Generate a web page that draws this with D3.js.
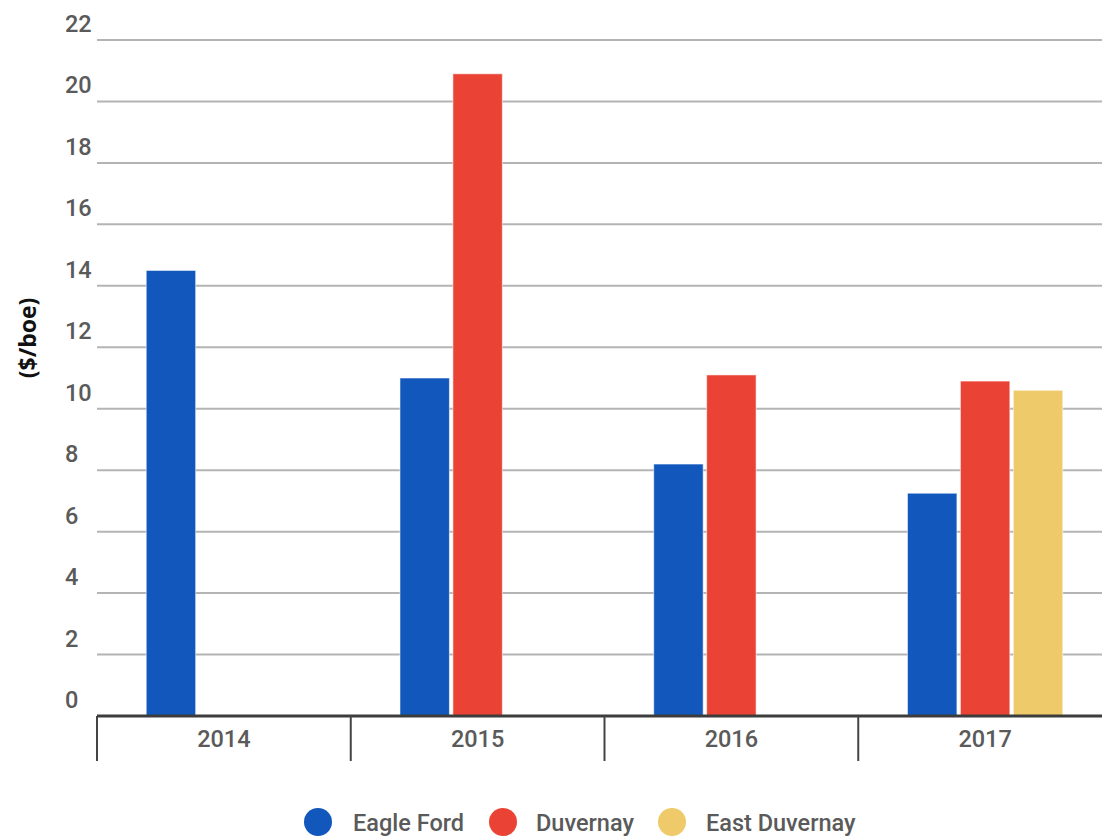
<!DOCTYPE html>
<html>
<head>
<meta charset="utf-8">
<script src="https://cdn.jsdelivr.net/npm/d3@7"></script>
<style>
  html, body { margin: 0; padding: 0; background: #fff; }
  svg { display: block; }
</style>
</head>
<body>
<div id="chart"></div>
<script>
// Operating cost by play, $/boe
const years = ["2014", "2015", "2016", "2017"];
const series = ["Eagle Ford", "Duvernay", "East Duvernay"];
const eagleFord = [14.5, 11.0, 8.2, 7.25];
const duvernay = [null, 20.9, 11.1, 10.9];
const eastDuvernay = [null, null, null, 10.6];
const yTicks = [0, 2, 4, 6, 8, 10, 12, 14, 16, 18, 20, 22];
const colors = ["#1258bc", "#ea4335", "#eeca6b"];

const seriesValues = [eagleFord, duvernay, eastDuvernay];

const W = 1102, H = 837;
const plotLeft = 97, plotRight = 1112, plotTop = 40, plotBottom = 716;

const svg = d3.select("#chart").append("svg")
  .attr("width", W).attr("height", H);

const y = d3.scaleLinear().domain([0, 22]).range([plotBottom, plotTop]);
const x0 = d3.scaleBand().domain(years).range([plotLeft, plotRight]);
const x1 = d3.scaleBand().domain(series).range([0, x0.bandwidth()])
  .paddingInner(0.066).paddingOuter(0.93);
const color = d3.scaleOrdinal().domain(series).range(colors);

// horizontal gridlines
svg.append("g").selectAll("line").data(yTicks.filter(t => t > 0)).join("line")
  .attr("x1", plotLeft).attr("x2", W)
  .attr("y1", d => y(d)).attr("y2", d => y(d))
  .attr("stroke", "#b4b4b4").attr("stroke-width", 2);

// y tick labels sit above their gridline
svg.append("g").selectAll("text").data(yTicks).join("text")
  .attr("x", 65).attr("y", d => y(d) - 8)
  .attr("font-family", "Roboto, sans-serif")
  .attr("font-weight", 500)
  .attr("font-size", 23.5)
  .attr("fill", "#5a5a5a")
  .text(d => d);

// bars
const rows = [];
years.forEach((yr, i) => {
  series.forEach((s, j) => {
    const v = seriesValues[j][i];
    if (v != null) rows.push({ year: yr, series: s, value: v });
  });
});

svg.append("g").selectAll("rect").data(rows).join("rect")
  .attr("x", d => x0(d.year) + x1(d.series))
  .attr("width", x1.bandwidth())
  .attr("y", d => y(d.value))
  .attr("height", d => y(0) - y(d.value))
  .attr("fill", d => color(d.series))
  .attr("stroke", "rgba(255,255,255,0.55)")
  .attr("stroke-width", 1);

// baseline
svg.append("line")
  .attr("x1", plotLeft).attr("x2", W)
  .attr("y1", y(0)).attr("y2", y(0))
  .attr("stroke", "#3c3c3c").attr("stroke-width", 3);

// category separators
svg.append("g").selectAll("line").data(years).join("line")
  .attr("x1", d => x0(d)).attr("x2", d => x0(d))
  .attr("y1", y(0)).attr("y2", y(0) + 45)
  .attr("stroke", "#444").attr("stroke-width", 2);

// category labels
svg.append("g").selectAll("text").data(years).join("text")
  .attr("x", d => x0(d) + x0.bandwidth() / 2)
  .attr("y", y(0) + 31)
  .attr("text-anchor", "middle")
  .attr("font-family", "Roboto, sans-serif")
  .attr("font-weight", 500)
  .attr("font-size", 23.5)
  .attr("fill", "#5a5a5a")
  .text(d => d);

// y axis title
svg.append("text")
  .attr("transform", `translate(36,${338}) rotate(-90)`)
  .attr("text-anchor", "middle")
  .attr("font-family", "'Open Sans', sans-serif")
  .attr("font-weight", 700)
  .attr("font-size", 23)
  .attr("fill", "#111")
  .text("($/boe)");

// legend
const legendItems = [
  { name: series[0], cx: 318, tx: 353 },
  { name: series[1], cx: 503, tx: 536 },
  { name: series[2], cx: 672, tx: 706 }
];
const lg = svg.append("g");
lg.selectAll("circle").data(legendItems).join("circle")
  .attr("cx", d => d.cx).attr("cy", 822).attr("r", 14)
  .attr("fill", d => color(d.name));
lg.selectAll("text").data(legendItems).join("text")
  .attr("x", d => d.tx).attr("y", 831)
  .attr("font-family", "Roboto, sans-serif")
  .attr("font-weight", 500)
  .attr("font-size", 23.5)
  .attr("fill", "#5a5a5a")
  .text(d => d.name);
</script>
</body>
</html>
